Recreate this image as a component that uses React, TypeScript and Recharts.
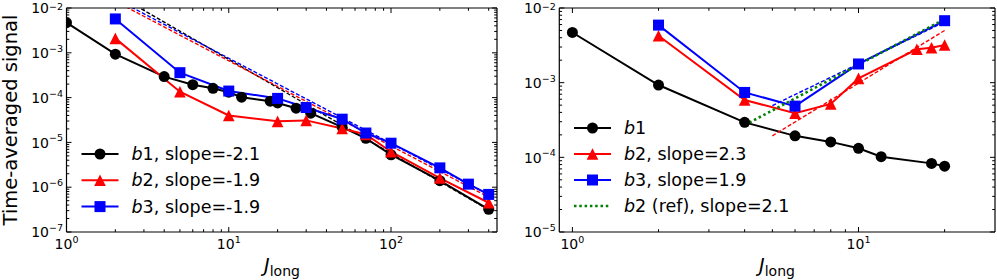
import React from 'react';
import { LineChart, Line, XAxis, YAxis } from 'recharts';

const FONT = '"DejaVu Sans", Verdana, sans-serif';

// ---------- Left panel data ----------
const leftB1X = [1, 2, 4, 6, 8, 10, 12, 18, 20, 26, 32, 50, 70, 100, 200, 400];
const leftB1Y = [4.7e-3, 9.3e-4, 2.94e-4, 1.94e-4, 1.61e-4, 1.32e-4, 1.02e-4, 8.3e-5, 7.6e-5, 5.8e-5, 4.5e-5, 2.2e-5, 1.23e-5, 5.3e-6, 1.4e-6, 3.2e-7];
const leftB2X = [2, 5, 10, 20, 30, 50, 70, 100, 200, 400];
const leftB2Y = [2.1e-3, 1.35e-4, 4.0e-5, 2.95e-5, 3.1e-5, 2.05e-5, 1.5e-5, 6.2e-6, 1.6e-6, 4.5e-7];
const leftB3X = [2, 5, 10, 20, 30, 50, 70, 100, 200, 300, 400];
const leftB3Y = [5.7e-3, 3.6e-4, 1.4e-4, 9.6e-5, 6.0e-5, 3.3e-5, 1.62e-5, 9.6e-6, 2.7e-6, 1.17e-6, 6.9e-7];
const leftFitX = [2, 400];
const leftFitB1Y = [2.08e-2, 3.1e-7];
const leftFitB2Y = [1.41e-2, 6.0e-7];
const leftFitB3Y = [1.61e-2, 6.8e-7];

// ---------- Right panel data ----------
const rightB1X = [1, 2, 4, 6, 8, 10, 12, 18, 20];
const rightB1Y = [4.7e-3, 9.3e-4, 2.94e-4, 1.94e-4, 1.61e-4, 1.32e-4, 1.02e-4, 8.3e-5, 7.6e-5];
const rightB2X = [2, 4, 6, 8, 10, 16, 18, 20];
const rightB2Y = [4.25e-3, 5.85e-4, 3.9e-4, 5.2e-4, 1.14e-3, 2.8e-3, 2.94e-3, 3.2e-3];
const rightB3X = [2, 4, 6, 10, 20];
const rightB3Y = [5.9e-3, 7.4e-4, 4.85e-4, 1.78e-3, 6.76e-3];
const rightFitX = [5, 20];
const rightFitB2Y = [1.94e-4, 5.0e-3];
const rightFitB3Y = [4.93e-4, 6.5e-3];
const rightRefX = [4, 20];
const rightRefY = [2.7e-4, 7.1e-3];

// ---------- Axes ----------
const leftXDomain = [1, 450];
const leftYDomain = [1e-7, 1e-2];
const rightXDomain = [0.9, 30];
const rightYDomain = [1e-5, 1e-2];
const minorMult = [1, 2, 3, 4, 5, 6, 7, 8, 9];
const leftXDecades = [1, 10, 100];
const leftYDecades = [1e-7, 1e-6, 1e-5, 1e-4, 1e-3];
const rightXDecades = [1, 10];
const rightYDecades = [1e-5, 1e-4, 1e-3];

const withMinors = (decades: number[], lo: number, hi: number) => {
  const out: number[] = [];
  decades.forEach((d) => minorMult.forEach((m) => out.push(+(d * m).toPrecision(6))));
  out.push(+(decades[decades.length - 1] * 10).toPrecision(6));
  return out.filter((v) => v >= lo * 0.9999 && v <= hi * 1.0001);
};

const leftXTicks = withMinors(leftXDecades, 1, 450);
const leftYTicks = withMinors(leftYDecades, 1e-7, 1e-2);
const rightXTicks = withMinors(rightXDecades, 1, 25);
const rightYTicks = withMinors(rightYDecades, 1e-5, 1e-2);

const pts = (xs: number[], ys: number[]) => xs.map((x, i) => ({ x, y: ys[i] }));

const isMajor = (v: number) => Math.abs(Math.log10(v) - Math.round(Math.log10(v))) < 1e-6;
const expText = (v: number) => {
  const e = Math.round(Math.log10(v));
  return e < 0 ? '\u2212' + Math.abs(e) : String(e);
};

const TICK_FS = 14;
const SUP_FS = 9.5;

function Tick(props: any) {
  const { x, y, payload, side } = props;
  const v = payload.value;
  const major = isMajor(v);
  const len = major ? 5 : 2.8;
  const stroke = '#000';
  if (side === 'bottom') {
    return (
      <g>
        <line x1={x} y1={y} x2={x} y2={y - len} stroke={stroke} strokeWidth={1} />
        {major && (
          <text x={x} y={y + 16.5} textAnchor="middle" fontSize={TICK_FS} fontFamily={FONT} fill="#000">
            <tspan>10</tspan>
            <tspan dy={-5.5} fontSize={SUP_FS}>{expText(v)}</tspan>
          </text>
        )}
      </g>
    );
  }
  if (side === 'top') {
    return <line x1={x} y1={y} x2={x} y2={y + len} stroke={stroke} strokeWidth={1} />;
  }
  if (side === 'left') {
    const base = y + 5.2;
    const supBase = Math.max(base - 6.3, 9.5);
    return (
      <g>
        <line x1={x} y1={y} x2={x + len} y2={y} stroke={stroke} strokeWidth={1} />
        {major && (
          <text x={x - 3.5} y={base} textAnchor="end" fontSize={TICK_FS} fontFamily={FONT} fill="#000">
            <tspan>10</tspan>
            <tspan dy={supBase - base} fontSize={SUP_FS}>{expText(v)}</tspan>
          </text>
        )}
      </g>
    );
  }
  return <line x1={x} y1={y} x2={x - len} y2={y} stroke={stroke} strokeWidth={1} />;
}

const MS = 11;
function Marker({ cx, cy, shape, color }: any) {
  if (cx == null || cy == null) return null;
  if (shape === 'circle') return <circle cx={cx} cy={cy} r={MS / 2} fill={color} />;
  if (shape === 'square') return <rect x={cx - MS / 2} y={cy - MS / 2} width={MS} height={MS} fill={color} />;
  const a = MS / 2 + 0.3;
  return <path d={`M${cx},${cy - a}L${cx - a},${cy + a}L${cx + a},${cy + a}Z`} fill={color} />;
}

type Series = {
  name: string;
  data: { x: number; y: number }[];
  color: string;
  shape?: string;
  dash?: string;
  width: number;
};

const axisLine = { stroke: '#000', strokeWidth: 1.2 };

function Panel(props: {
  width: number;
  left: number;
  margin: { top: number; right: number; bottom: number; left: number };
  xDomain: number[];
  yDomain: number[];
  xTicks: number[];
  yTicks: number[];
  series: Series[];
}) {
  const { width, left, margin, xDomain, yDomain, xTicks, yTicks, series } = props;
  return (
    <div style={{ position: 'absolute', left, top: 0 }}>
      <LineChart width={width} height={280} margin={margin} style={{ overflow: 'visible' }}>
        <XAxis xAxisId="b" orientation="bottom" dataKey="x" type="number" scale="log" domain={xDomain} allowDataOverflow
          ticks={xTicks} interval={0} tickSize={0} tickMargin={0} tickLine={false} height={1} axisLine={axisLine}
          tick={(p: any) => <Tick {...p} side="bottom" />} />
        <XAxis xAxisId="t" orientation="top" dataKey="x" type="number" scale="log" domain={xDomain} allowDataOverflow
          ticks={xTicks} interval={0} tickSize={0} tickMargin={0} tickLine={false} height={1} axisLine={axisLine}
          tick={(p: any) => <Tick {...p} side="top" />} />
        <YAxis yAxisId="l" orientation="left" type="number" scale="log" domain={yDomain} allowDataOverflow
          ticks={yTicks} interval={0} tickSize={0} tickMargin={0} tickLine={false} width={1} axisLine={axisLine}
          tick={(p: any) => <Tick {...p} side="left" />} />
        <YAxis yAxisId="r" orientation="right" type="number" scale="log" domain={yDomain} allowDataOverflow
          ticks={yTicks} interval={0} tickSize={0} tickMargin={0} tickLine={false} width={1} axisLine={axisLine}
          tick={(p: any) => <Tick {...p} side="right" />} />
        {series.map((s) => (
          <Line
            key={s.name}
            xAxisId="b"
            yAxisId="l"
            data={s.data}
            dataKey="y"
            type="linear"
            stroke={s.color}
            strokeWidth={s.width}
            strokeDasharray={s.dash}
            isAnimationActive={false}
            activeDot={false}
            dot={
              s.shape
                ? (p: any) => <Marker key={`${s.name}-${p.index}`} cx={p.cx} cy={p.cy} shape={s.shape} color={s.color} />
                : false
            }
          />
        ))}
      </LineChart>
    </div>
  );
}

const leftSeries: Series[] = [
  { name: 'fit1', data: pts(leftFitX, leftFitB1Y), color: '#000', dash: '4 2', width: 1.4 },
  { name: 'fit3', data: pts(leftFitX, leftFitB3Y), color: '#0000ff', dash: '4 2', width: 1.4 },
  { name: 'fit2', data: pts(leftFitX, leftFitB2Y), color: '#ff0000', dash: '4 2', width: 1.4 },
  { name: 'b1', data: pts(leftB1X, leftB1Y), color: '#000', shape: 'circle', width: 2 },
  { name: 'b2', data: pts(leftB2X, leftB2Y), color: '#ff0000', shape: 'triangle', width: 2 },
  { name: 'b3', data: pts(leftB3X, leftB3Y), color: '#0000ff', shape: 'square', width: 2 },
];

const rightSeries: Series[] = [
  { name: 'b1', data: pts(rightB1X, rightB1Y), color: '#000', shape: 'circle', width: 2 },
  { name: 'b2', data: pts(rightB2X, rightB2Y), color: '#ff0000', shape: 'triangle', width: 2 },
  { name: 'b3', data: pts(rightB3X, rightB3Y), color: '#0000ff', shape: 'square', width: 2 },
  { name: 'fit2', data: pts(rightFitX, rightFitB2Y), color: '#ff0000', dash: '4 2', width: 1.4 },
  { name: 'fit3', data: pts(rightFitX, rightFitB3Y), color: '#0000ff', dash: '4 2', width: 1.4 },
  { name: 'ref', data: pts(rightRefX, rightRefY), color: '#008000', dash: '2.5 2.8', width: 2.6 },
];

const leftLegend = [
  { b: 'b', n: '1', rest: ', slope=-2.1', color: '#000', shape: 'circle' },
  { b: 'b', n: '2', rest: ', slope=-1.9', color: '#ff0000', shape: 'triangle' },
  { b: 'b', n: '3', rest: ', slope=-1.9', color: '#0000ff', shape: 'square' },
];
const rightLegend = [
  { b: 'b', n: '1', rest: '', color: '#000', shape: 'circle' },
  { b: 'b', n: '2', rest: ', slope=2.3', color: '#ff0000', shape: 'triangle' },
  { b: 'b', n: '3', rest: ', slope=1.9', color: '#0000ff', shape: 'square' },
  { b: 'b', n: '2', rest: ' (ref), slope=2.1', color: '#008000', shape: '', dotted: true },
];

const LEG_FS = 17.5;

function LegendBlock({ items, x0, y0, dy }: any) {
  return (
    <g>
      {items.map((it: any, i: number) => {
        const cy = y0 + i * dy;
        return (
          <g key={i}>
            <line x1={x0} y1={cy} x2={x0 + 37} y2={cy} stroke={it.color} strokeWidth={it.dotted ? 2.6 : 2}
              strokeDasharray={it.dotted ? '2.5 2.8' : undefined} />
            {it.shape && <Marker cx={x0 + 18.5} cy={cy} shape={it.shape} color={it.color} />}
            <text x={x0 + 50} y={cy + 6} fontSize={LEG_FS} fontFamily={FONT} fill="#000">
              <tspan fontStyle="italic">{it.b}</tspan>
              <tspan>{it.n}{it.rest}</tspan>
            </text>
          </g>
        );
      })}
    </g>
  );
}

export default function App() {
  return (
    <div style={{ position: 'absolute', left: 0, top: 0, width: 997, height: 280, background: '#fff', overflow: 'hidden' }}>
      <Panel width={500} left={0} margin={{ top: 7, right: 2, bottom: 47, left: 65.5 }}
        xDomain={leftXDomain} yDomain={leftYDomain} xTicks={leftXTicks} yTicks={leftYTicks} series={leftSeries} />
      <Panel width={497} left={500} margin={{ top: 7, right: 1, bottom: 47, left: 58.3 }}
        xDomain={rightXDomain} yDomain={rightYDomain} xTicks={rightXTicks} yTicks={rightYTicks} series={rightSeries} />
      <svg width={997} height={280} style={{ position: 'absolute', left: 0, top: 0, pointerEvents: 'none' }}>
        <text transform="translate(16.5,120) rotate(-90)" textAnchor="middle" fontSize={19.5} fontFamily={FONT} fill="#000">
          Time-averaged signal
        </text>
        <text x={282} y={272} textAnchor="middle" fontSize={19} fontFamily={FONT} fill="#000">
          <tspan fontStyle="italic">J</tspan>
          <tspan fontSize={14} dy={4}>long</tspan>
        </text>
        <text x={777} y={272} textAnchor="middle" fontSize={19} fontFamily={FONT} fill="#000">
          <tspan fontStyle="italic">J</tspan>
          <tspan fontSize={14} dy={4}>long</tspan>
        </text>
        <LegendBlock items={leftLegend} x0={81.5} y0={154} dy={26.3} />
        <LegendBlock items={rightLegend} x0={574} y0={128} dy={26} />
      </svg>
    </div>
  );
}
